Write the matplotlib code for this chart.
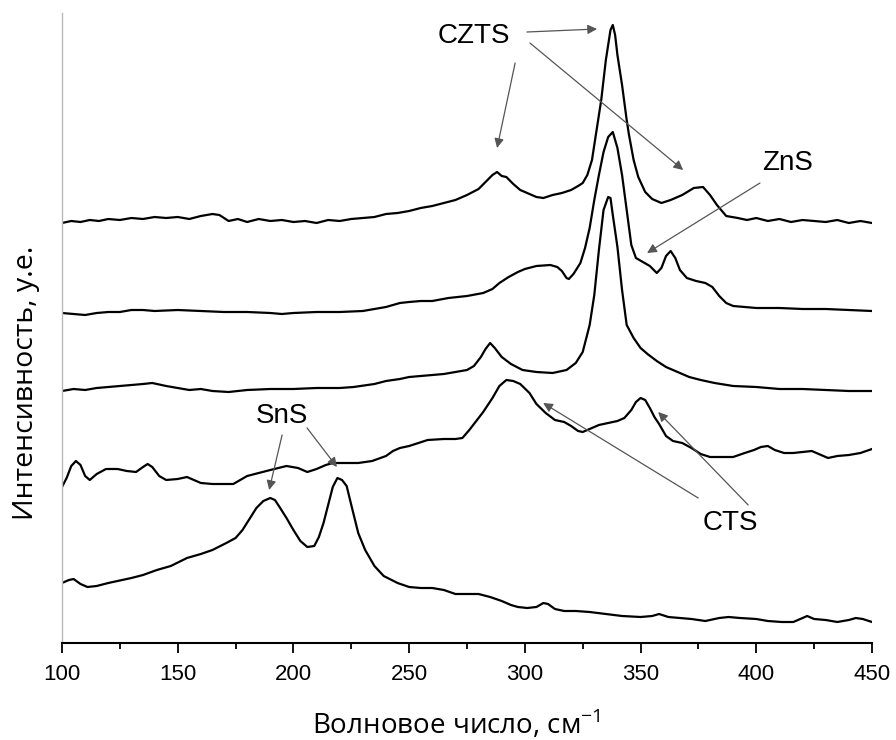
import matplotlib
matplotlib.use("Agg")
import matplotlib.pyplot as plt
from matplotlib.ticker import MultipleLocator

# Raman spectra, intensity in arbitrary units (stacked offsets as in the figure)
czts_x = [100, 104, 108, 112, 116, 120, 125, 130, 135, 140, 145, 150, 155, 160, 165, 168, 172, 176, 180, 185,
          190, 195, 200, 205, 210, 215, 220, 225, 230, 235, 240, 245, 250, 255, 260, 265, 270, 275, 280, 283,
          286, 288, 290, 292, 295, 298, 301, 305, 308, 312, 316, 320, 323, 325, 327, 329, 331, 333, 335, 337,
          338, 339, 340, 342, 344, 345, 347, 349, 352, 355, 359, 363, 368, 373, 377, 380, 383, 387, 392, 396,
          400, 405, 410, 415, 420, 425, 430, 435, 440, 445, 450]
czts_y = [420, 422, 421, 423, 422, 424, 423, 425, 424, 426, 425, 426, 424, 427, 429, 428, 422, 424, 421, 424,
          422, 423, 421, 422, 420, 423, 422, 424, 425, 426, 429, 430, 432, 435, 437, 440, 443, 448, 454, 461,
          468, 471, 467, 466, 459, 453, 450, 446, 445, 448, 450, 453, 457, 460, 468, 483, 513, 543, 583, 613,
          618, 608, 588, 558, 523, 508, 483, 466, 451, 444, 440, 443, 448, 455, 456, 448, 438, 427, 425, 423,
          425, 422, 424, 421, 423, 422, 421, 423, 420, 422, 420]

czts_zns_x = [100, 105, 110, 115, 120, 125, 130, 135, 140, 150, 160, 170, 180, 190, 195, 200, 210, 220, 230, 240,
              246, 250, 255, 260, 267, 275, 282, 286, 289, 293, 297, 300, 305, 311, 314, 316, 318, 319, 321, 324,
              326, 328, 330, 332, 334, 336, 338, 340, 342, 344, 346, 348, 351, 354, 357, 359, 361, 363, 365, 367,
              370, 374, 378, 381, 384, 387, 390, 395, 400, 410, 420, 430, 440, 450]
czts_zns_y = [330, 329, 328, 330, 331, 331, 333, 333, 332, 333, 332, 331, 331, 330, 329, 330, 331, 331, 332, 336,
              340, 341, 342, 342, 345, 347, 350, 354, 360, 366, 371, 374, 377, 378, 376, 372, 365, 364, 369, 380,
              395, 415, 443, 468, 491, 506, 511, 495, 468, 433, 398, 385, 381, 377, 370, 375, 387, 392, 385, 373,
              365, 362, 360, 356, 347, 340, 337, 336, 335, 335, 334, 334, 333, 332]

czts2_x = [100, 105, 110, 115, 120, 125, 130, 135, 139, 145, 150, 155, 160, 165, 172, 180, 190, 200, 210, 220,
           226, 235, 240, 246, 250, 255, 260, 265, 270, 275, 278, 281, 283, 285, 287, 290, 294, 299, 305, 312,
           318, 322, 325, 328, 330, 332, 334, 336, 337, 338, 340, 342, 344, 347, 350, 353, 357, 361, 366, 371,
           376, 382, 390, 400, 410, 420, 430, 440, 450]
czts2_y = [252, 254, 253, 255, 256, 257, 258, 259, 260, 257, 255, 253, 254, 252, 251, 253, 254, 254, 255, 255,
           256, 259, 262, 264, 266, 267, 268, 269, 271, 273, 277, 286, 294, 300, 295, 286, 279, 273, 271, 270,
           273, 280, 291, 318, 348, 393, 433, 446, 445, 428, 396, 353, 318, 305, 295, 289, 282, 276, 271, 266,
           263, 260, 257, 256, 254, 254, 253, 252, 252]

cts_x = [100, 102, 104, 106, 108, 110, 112, 115, 119, 124, 128, 132, 135, 137, 139, 142, 145, 150, 154, 157,
         160, 165, 170, 174, 177, 180, 185, 190, 197, 202, 206, 210, 214, 217, 222, 228, 234, 240, 243, 246,
         250, 254, 258, 265, 270, 273, 276, 279, 282, 286, 289, 292, 295, 298, 302, 305, 309, 313, 317, 320,
         323, 325, 328, 332, 336, 340, 343, 346, 348, 350, 352, 354, 356, 358, 361, 364, 368, 372, 376, 380,
         385, 390, 395, 399, 402, 405, 408, 412, 416, 420, 424, 427, 431, 435, 440, 445, 450]
cts_y = [156, 165, 177, 182, 178, 167, 163, 169, 174, 174, 172, 171, 176, 179, 176, 167, 163, 164, 166, 163,
         160, 159, 159, 159, 163, 167, 170, 173, 177, 175, 171, 174, 178, 180, 180, 180, 182, 187, 192, 195,
         197, 200, 203, 204, 204, 205, 213, 222, 231, 245, 257, 263, 262, 259, 250, 239, 230, 223, 221, 217,
         212, 211, 214, 218, 220, 222, 225, 233, 241, 245, 243, 235, 226, 219, 207, 202, 200, 195, 189, 186,
         186, 186, 190, 193, 196, 197, 193, 190, 190, 191, 192, 189, 185, 187, 188, 190, 194]

sns_x = [100, 103, 105, 108, 111, 115, 120, 126, 130, 135, 141, 147, 154, 160, 165, 171, 175, 178, 181, 184,
         187, 190, 192, 194, 197, 200, 203, 206, 209, 211, 213, 215, 217, 219, 221, 223, 225, 228, 231, 235,
         239, 245, 250, 255, 260, 265, 270, 275, 280, 285, 290, 294, 297, 301, 305, 308, 310, 313, 317, 322,
         328, 335, 342, 350, 355, 358, 362, 367, 372, 378, 384, 388, 393, 400, 405, 411, 416, 419, 422, 425,
         430, 435, 440, 443, 446, 450]
sns_y = [60, 63, 64, 59, 56, 57, 60, 63, 65, 68, 73, 77, 85, 89, 93, 100, 105, 113, 124, 135,
         142, 145, 143, 136, 125, 113, 102, 96, 97, 106, 120, 138, 156, 165, 163, 157, 138, 110, 93, 77,
         67, 60, 56, 55, 55, 53, 49, 49, 49, 46, 42, 38, 36, 35, 36, 40, 39, 34, 32, 32,
         31, 29, 27, 26, 27, 29, 26, 25, 24, 22, 25, 26, 25, 24, 22, 21, 21, 24, 27, 24,
         23, 21, 23, 25, 24, 21]

# labels and where their arrows start / point to
labels = ["CZTS", "ZnS", "SnS", "CTS"]
label_pos = [(278, 607), (413.7, 480), (195, 227), (388.7, 120)]
arrows = [
    [((300.9, 611), (331.2, 614)), ((295.8, 580), (288.0, 495)), ((302.2, 600), (368.4, 473))],
    [((401.6, 460), (352.8, 390))],
    [((195.1, 208), (189.5, 153)), ((205.9, 215), (218.8, 176))],
    [((374.9, 145), (307.9, 240)), ((396.5, 138), (357.6, 231))],
]

fig = plt.figure(figsize=(8.96, 7.4), dpi=100)
ax = fig.add_axes([62 / 896, 97 / 740, 810 / 896, 630 / 740])

for xs, ys in [(czts_x, czts_y), (czts_zns_x, czts_zns_y), (czts2_x, czts2_y), (cts_x, cts_y), (sns_x, sns_y)]:
    ax.plot(xs, ys, color="black", lw=1.6)

for text, (tx, ty), arr in zip(labels, label_pos, arrows):
    ax.text(tx, ty, text, ha="center", va="center", fontsize=20, family="Liberation Sans")
    for start, end in arr:
        ax.annotate("", xy=end, xytext=start,
                    arrowprops=dict(arrowstyle="-|>", color="#555555", lw=0.9,
                                    mutation_scale=14, shrinkA=0, shrinkB=0))

ax.set_xlim(100, 450)
ax.set_ylim(0, 630)
ax.xaxis.set_major_locator(MultipleLocator(50))
ax.xaxis.set_minor_locator(MultipleLocator(25))
ax.tick_params(axis="x", which="major", length=7, width=1.3, pad=8, labelsize=16)
ax.tick_params(axis="x", which="minor", length=4, width=1.3)
ax.set_yticks([])
for lbl in ax.get_xticklabels():
    lbl.set_family("Liberation Sans")

ax.spines["top"].set_visible(False)
ax.spines["right"].set_visible(False)
ax.spines["left"].set_color("#bbbbbb")
ax.spines["left"].set_linewidth(1.0)
ax.spines["bottom"].set_linewidth(1.5)

fig.text(456 / 896, 1 - 724 / 740, "Волновое число, см$^{\\mathregular{-1}}$",
         ha="center", va="center", fontsize=20, family="Open Sans")
fig.text(26 / 896, 1 - 383 / 740, "Интенсивность, у.е.", rotation=90,
         ha="center", va="center", fontsize=20.5, family="Open Sans")

fig.savefig("out.png", dpi=100)
